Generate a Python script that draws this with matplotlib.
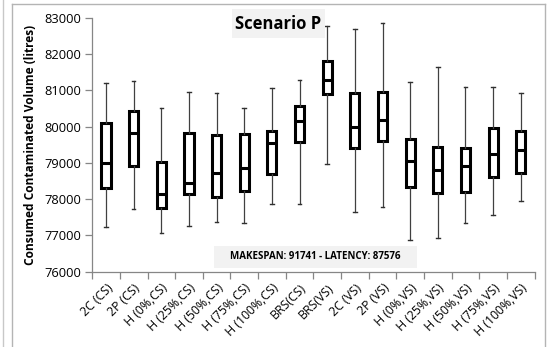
import matplotlib
matplotlib.use("Agg")
import matplotlib.pyplot as plt
from matplotlib.lines import Line2D
from matplotlib.patches import Rectangle

categories = ["2C (CS)", "2P (CS)", "H (0%,CS)", "H (25%,CS)", "H (50%,CS)",
              "H (75%,CS)", "H (100%,CS)", "BRS(CS)", "BRS(VS)", "2C (VS)",
              "2P (VS)", "H (0%,VS)", "H (25%,VS)", "H (50%,VS)", "H (75%,VS)",
              "H (100%,VS)"]
whisker_low = [77240, 77720, 77080, 77260, 77380, 77330, 77870, 77860, 78970,
               77640, 77775, 76870, 76920, 77350, 77560, 77950]
q1 = [78300, 78910, 77765, 78135, 78065, 78235, 78690, 79585, 80900, 79400,
      79610, 78345, 78180, 78190, 78600, 78710]
median = [79005, 79830, 78135, 78435, 78730, 78850, 79555, 80155, 81285, 79980,
          80180, 79050, 78800, 78910, 79245, 79355]
q3 = [80090, 80430, 79015, 79830, 79770, 79795, 79885, 80575, 81815, 80925,
      80945, 79660, 79445, 79410, 79960, 79885]
whisker_high = [81190, 81255, 80505, 80945, 80915, 80520, 81070, 81285, 82780,
                82680, 82845, 81220, 81635, 81100, 81080, 80915]
y_ticks = [76000, 77000, 78000, 79000, 80000, 81000, 82000, 83000]
title_text = "Scenario P"
note_text = "MAKESPAN: 91741 - LATENCY: 87576"
y_label = "Consumed Contaminated Volume (litres)"

FONT = "Open Sans"
plt.rcParams["font.family"] = [FONT, "DejaVu Sans"]

fig = plt.figure(figsize=(5.47, 3.47), dpi=100)
ax = fig.add_axes([0.1686, 0.217, 0.8087, 0.732])

stats = []
for i, name in enumerate(categories):
    stats.append(dict(label=name, med=median[i], q1=q1[i], q3=q3[i],
                      whislo=whisker_low[i], whishi=whisker_high[i], fliers=[]))

positions = list(range(len(categories)))
ax.bxp(stats, positions=positions, widths=0.33, capwidths=0.13,
       showfliers=False, patch_artist=True,
       boxprops=dict(facecolor="white", edgecolor="black", linewidth=2.2),
       medianprops=dict(color="black", linewidth=2.2, solid_capstyle="butt"),
       whiskerprops=dict(color="#404040", linewidth=0.9),
       capprops=dict(color="#303030", linewidth=1.0),
       zorder=3)

ax.set_xlim(-0.5, len(categories) - 0.5)
ax.set_ylim(76000, 83000)
ax.set_yticks(y_ticks)
ax.set_yticklabels([str(v) for v in y_ticks], fontsize=9.3)

ax.set_xticks(positions)
ax.set_xticklabels(categories, rotation=45, ha="right", rotation_mode="anchor",
                   fontsize=8.8)
ax.set_xticks([p - 0.5 for p in positions] + [len(categories) - 0.5], minor=True)
ax.tick_params(axis="x", which="major", length=0, pad=7)
ax.tick_params(axis="x", which="minor", length=5, color="#868686", width=0.9)
ax.tick_params(axis="y", length=5, color="#868686", width=0.9, pad=3)

for side in ("top", "right"):
    ax.spines[side].set_visible(False)
for side in ("left", "bottom"):
    ax.spines[side].set_color("#868686")
    ax.spines[side].set_linewidth(0.9)

ax.set_ylabel(y_label, fontsize=8.6, fontweight="bold", labelpad=5)

# Chart title in a shaded box
ax.add_patch(Rectangle((0.316, 0.921), 0.210, 0.112, transform=ax.transAxes,
                       facecolor="#f2f2f2", edgecolor="none", clip_on=False, zorder=4))
ax.text(0.421, 0.977, title_text, transform=ax.transAxes, ha="center", va="center",
        fontsize=12, fontweight="bold", zorder=5)

# Makespan / latency note
ax.add_patch(Rectangle((0.2753, 0.0157), 0.4587, 0.0853, transform=ax.transAxes,
                       facecolor="#f2f2f2", edgecolor="none", clip_on=False, zorder=4))
ax.text(0.505, 0.059, note_text, transform=ax.transAxes, ha="center", va="center",
        fontsize=7.0, fontweight="bold", zorder=5)

# Outer chart frame
W, H = 547.0, 347.0
frame_color = "#b4b4b4"
fig.add_artist(Line2D([11.7 / W, 11.7 / W], [0, 1 - 4 / H], color=frame_color,
                      lw=1.0, transform=fig.transFigure))
fig.add_artist(Line2D([11.7 / W, 545 / W], [1 - 4 / H, 1 - 4 / H], color=frame_color,
                      lw=1.0, transform=fig.transFigure))
fig.add_artist(Line2D([545 / W, 545 / W], [0, 1 - 4 / H], color=frame_color,
                      lw=1.0, transform=fig.transFigure))
fig.add_artist(Line2D([2.7 / W, 2.7 / W], [0, 1], color="#c8c8c8",
                      lw=1.0, transform=fig.transFigure))

fig.savefig("out.png", dpi=100, facecolor="white")
